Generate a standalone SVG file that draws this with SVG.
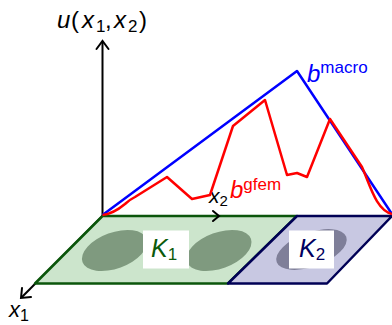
<svg xmlns="http://www.w3.org/2000/svg" width="392" height="325" viewBox="0 0 392 325">
<defs>
<style>
.t{font-family:"Liberation Sans",Arial,sans-serif;}
.it{font-style:italic;}
.ax{stroke:#000;stroke-width:2;fill:none;}
.ah{stroke:#000;stroke-width:2;fill:none;stroke-linecap:round;stroke-linejoin:miter;}
.g{fill:#cce5cc;stroke:#0b560b;stroke-width:2.5;stroke-linejoin:round;}
.b{fill:#c8c8e2;stroke:#000055;stroke-width:2.5;stroke-linejoin:round;}
.ge{fill:#7f9a7f;}
.be{fill:#7f7f99;}
.box{fill:#fff;}
</style>
</defs>
<rect width="392" height="325" fill="#fff"/>
<g id="axes">
<line class="ax" x1="102.5" y1="216" x2="102.5" y2="42"/>
<path class="ah" d="M96.5,49 L102.5,41 L108.5,49"/>
<line class="ax" x1="102.5" y1="216" x2="21.5" y2="297.5"/>
<path class="ah" d="M22,288 L21,298 L31,297"/>
<text class="t" y="28" font-size="24"><tspan class="it" x="57">u</tspan><tspan x="71">(</tspan><tspan class="it" x="82">x</tspan><tspan font-size="17" x="96" dy="4">1</tspan><tspan x="105" dy="-4">,</tspan><tspan class="it" x="114">x</tspan><tspan font-size="17" x="128" dy="4">2</tspan><tspan x="139" dy="-4">)</tspan></text>
<text class="t" x="9" y="317" font-size="22"><tspan class="it">x</tspan><tspan font-size="16" dy="4">1</tspan></text>
</g>
<g id="K1">
<polygon class="g" points="102.5,216 297,216 228,283.5 35,283.5"/>
<ellipse class="ge" cx="114.5" cy="250.5" rx="34" ry="18" transform="rotate(-20 114.5 250.5)"/>
<ellipse class="ge" cx="219" cy="250.5" rx="34" ry="18" transform="rotate(-20 219 250.5)"/>
<rect class="box" x="143" y="230.5" width="46" height="38"/>
<text class="t" x="151" y="257" font-size="25" fill="#0b5a0b"><tspan class="it">K</tspan><tspan font-size="17" dy="3">1</tspan></text>
</g>
<g id="K2">
<polygon class="b" points="297,216 392,216 327,283.5 228,283.5"/>
<ellipse class="be" cx="311.5" cy="249.5" rx="37" ry="17" transform="rotate(-20 311.5 249.5)"/>
<rect class="box" x="289" y="230.5" width="45" height="38"/>
<text class="t" x="299" y="257" font-size="25" fill="#000060"><tspan class="it">K</tspan><tspan font-size="17" dy="3">2</tspan></text>
</g>
<g id="x2axis">
<path class="ah" d="M213,211 L219,216 L213,221"/>
<text class="t" x="209" y="203" font-size="21"><tspan class="it">x</tspan><tspan font-size="15" dy="3">2</tspan></text>
</g>
<g id="connectors">
<polyline fill="none" stroke="#0000ff" stroke-width="2.5" stroke-linejoin="round" points="102.5,215 297,71 392,214"/>
<path fill="none" stroke="#ff0000" stroke-width="2.5" stroke-linejoin="round" d="M102.5,215 C112,214 119,209 125,204 C129,200 131,199 135,197 L167,177 L192,199 L210,195 L233,126 L265,100 L287,175 L297,173 L307,177 L330,119 L362,167 C370,185 376,210 392,214"/>
</g>
<g id="labels">
<text class="t" x="230" y="198" font-size="24" fill="#ff0000"><tspan class="it">b</tspan><tspan font-size="17" dy="-8">gfem</tspan></text>
<text class="t" x="307" y="82" font-size="24" fill="#0000ff"><tspan class="it">b</tspan><tspan font-size="17" dy="-9">macro</tspan></text>
</g>
</svg>
